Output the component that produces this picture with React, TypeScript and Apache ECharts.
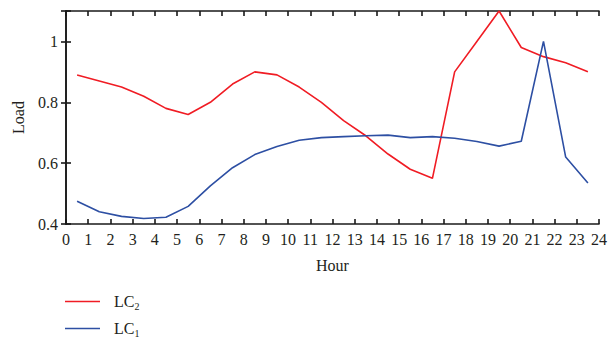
import React, { useEffect, useRef } from "react";
import * as echarts from "echarts";

const hours = [0.5, 1.5, 2.5, 3.5, 4.5, 5.5, 6.5, 7.5, 8.5, 9.5, 10.5, 11.5, 12.5, 13.5, 14.5, 15.5, 16.5, 17.5, 18.5, 19.5, 20.5, 21.5, 22.5, 23.5];
const lc2 = [0.89, 0.87, 0.85, 0.82, 0.78, 0.76, 0.80, 0.86, 0.90, 0.89, 0.85, 0.80, 0.74, 0.69, 0.63, 0.58, 0.55, 0.90, 1.00, 1.10, 0.98, 0.95, 0.93, 0.90];
const lc1 = [0.475, 0.44, 0.425, 0.418, 0.422, 0.458, 0.525, 0.585, 0.628, 0.655, 0.675, 0.684, 0.687, 0.690, 0.692, 0.684, 0.687, 0.682, 0.671, 0.656, 0.672, 1.00, 0.62, 0.535];
const seriesNames = ["LC2", "LC1"];
const seriesSubs: Record<string, string> = { LC2: "2", LC1: "1" };

const FONT = "Liberation Serif";
const TXT = "#231f20";

export default function App() {
  const ref = useRef<HTMLDivElement>(null);
  useEffect(() => {
    if (!ref.current) return;
    const chart = echarts.init(ref.current, undefined, { renderer: "svg" });
    const axisLine = { show: true, lineStyle: { color: "#1a1a1a", width: 1.6 } };
    const axisTick = { show: true, inside: true, length: 5, lineStyle: { color: "#1a1a1a", width: 1.6 } };
    const legendBase = {
      orient: "vertical",
      left: 65,
      padding: 0,
      icon: "rect",
      itemWidth: 35,
      itemHeight: 1.4,
      formatter: (name: string) => `LC{sub|${seriesSubs[name]}}`,
      textStyle: {
        fontFamily: FONT,
        fontSize: 16,
        color: TXT,
        padding: [0, 0, 0, 9],
        rich: {
          sub: { fontFamily: FONT, fontSize: 10, color: TXT, verticalAlign: "bottom", padding: [9, 0, 0, 0] },
        },
      },
    };
    chart.setOption({
      animation: false,
      backgroundColor: "#ffffff",
      textStyle: { fontFamily: FONT },
      grid: { left: 66, right: 9, top: 11, bottom: 120 },
      legend: [
        { ...legendBase, top: 293.5, data: [seriesNames[0]] },
        { ...legendBase, top: 320.5, data: [seriesNames[1]] },
      ],
      xAxis: [
        {
          type: "value",
          min: 0,
          max: 24,
          interval: 1,
          name: "Hour",
          nameLocation: "middle",
          nameGap: 33,
          nameTextStyle: { fontFamily: FONT, fontSize: 16, color: TXT },
          axisLine,
          axisTick,
          splitLine: { show: false },
          axisLabel: { fontFamily: FONT, fontSize: 16, color: TXT, margin: 7 },
        },
        {
          type: "value",
          position: "top",
          min: 0,
          max: 24,
          interval: 1,
          axisLine,
          axisTick,
          splitLine: { show: false },
          axisLabel: { show: false },
        },
      ],
      yAxis: [
        {
          type: "value",
          min: 0.4,
          max: 1.1,
          interval: 0.2,
          name: "Load",
          nameLocation: "middle",
          nameGap: 40,
          nameTextStyle: { fontFamily: FONT, fontSize: 16, color: TXT },
          axisLine,
          axisTick,
          splitLine: { show: false },
          axisLabel: {
            fontFamily: FONT,
            fontSize: 16,
            color: TXT,
            margin: 8,
            formatter: (v: number) => (Math.abs(v - 1.1) < 1e-6 ? "" : String(Math.round(v * 10) / 10)),
          },
        },
        {
          type: "value",
          position: "right",
          min: 0.4,
          max: 1.1,
          interval: 0.2,
          axisLine,
          axisTick,
          splitLine: { show: false },
          axisLabel: { show: false },
        },
      ],
      series: [
        {
          name: "LC2",
          type: "line",
          data: hours.map((h, i) => [h, lc2[i]]),
          symbol: "none",
          lineStyle: { color: "#f01c24", width: 1.6 },
          itemStyle: { color: "#f01c24" },
        },
        {
          name: "LC1",
          type: "line",
          data: hours.map((h, i) => [h, lc1[i]]),
          symbol: "none",
          lineStyle: { color: "#2d4fa3", width: 1.6 },
          itemStyle: { color: "#2d4fa3" },
        },
      ],
    });
    return () => chart.dispose();
  }, []);
  return <div ref={ref} style={{ position: "fixed", left: 0, top: 0, width: 610, height: 344 }} />;
}
